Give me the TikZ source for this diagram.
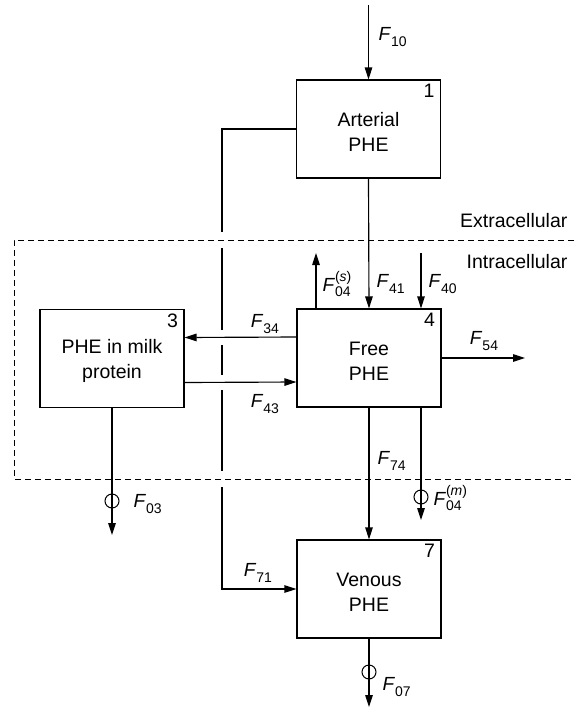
\documentclass[tikz,border=0pt]{standalone}
\usepackage{fontspec}
\setmainfont{Liberation Sans}
\usetikzlibrary{arrows.meta}
\newcommand{\Fsub}[1]{\textit{F}\raisebox{-0.28em}{\fontsize{14}{14}\selectfont #1}}
\newcommand{\Fsup}[2]{\textit{F}\rlap{\raisebox{0.52em}{\fontsize{14}{14}\selectfont(\textit{#2})}}\raisebox{-0.28em}{\fontsize{14}{14}\selectfont #1}}
\newcommand{\topstrut}{\rule{0pt}{20pt}}
\begin{document}
\begin{tikzpicture}[x=1pt,y=-1pt,line width=1.15pt,
  box/.style={draw, minimum width=144pt, minimum height=98pt, inner sep=0pt, align=center, font=\fontsize{19.5}{25}\selectfont},
  num/.style={anchor=north east, inner sep=0pt, font=\fontsize{19.5}{20}\selectfont},
  lab/.style={inner sep=0pt, font=\fontsize{19}{20}\selectfont},
  region/.style={inner sep=0pt, anchor=east, font=\fontsize{19.5}{20}\selectfont},
  flow/.style={draw, -{Triangle[length=12pt,width=7.5pt]}},
  ring/.style={draw, circle, minimum size=14pt, inner sep=0pt, line width=1pt},
  boundary/.style={draw, line width=1pt, dash pattern=on 6pt off 4pt}]
\useasboundingbox (0,0) rectangle (574,712);

% boxes
\node[box] (b1) at (368.5,129) {\topstrut Arterial\\PHE};
\node[box] (b4) at (369,358) {\topstrut Free\\PHE};
\node[box] (b3) at (112,358.5) {\topstrut PHE in milk\\protein};
\node[box] (b7) at (369,589) {\topstrut Venous\\PHE};
\node[num] (n1) at ([xshift=-6pt,yshift=-4pt]b1.north east) {1};
\node[num] (n4) at ([xshift=-6pt,yshift=-4pt]b4.north east) {4};
\node[num] (n3) at ([xshift=-6pt,yshift=-4pt]b3.north east) {3};
\node[num] (n7) at ([xshift=-6pt,yshift=-4pt]b7.north east) {7};

% bypass line
\coordinate (lx) at (222,400);
\draw[flow] (b1.west) -| (lx) |- (b7.west);
\fill[white] (216,232) rectangle (228,248);
\fill[white] (216,329.5) rectangle (228,344.5);
\fill[white] (216,374.5) rectangle (228,389.5);
\fill[white] (216,471) rectangle (228,487);

% cell boundary
\coordinate (d1) at (574,240);
\coordinate (d2) at (14,240);
\coordinate (d3) at (14,479);
\coordinate (d4) at (574,479);
\draw[boundary] (d1) -- (d2) -- (d3) -- (d4);
\node[region] (ext) at (568,221) {Extracellular};
\node[region] (int) at (568,262) {Intracellular};

% flows
\coordinate (s10) at (368.5,5);
\draw[flow] (s10) -- (b1.north);
\node[lab, anchor=west] (l10) at (378,37) {\Fsub{10}};

\draw[flow] (b1.south) -- (b4.north);
\node[lab, anchor=west] (l41) at (376,284) {\Fsub{41}};

\coordinate (s40) at (421,253);
\draw[flow] (s40) -- (s40 |- b4.north);
\node[lab, anchor=west] (l40) at (428,284) {\Fsub{40}};

\coordinate (e04s) at (316,253);
\draw[flow] (e04s |- b4.north) -- (e04s);
\node[lab, anchor=west] (l04s) at (322,284) {\Fsup{04}{s}};

\draw[flow] ([yshift=21pt]b4.west) -- ([yshift=21pt]b3.east);
\node[lab] (l34) at (265,324) {\Fsub{34}};
\draw[flow] ([yshift=-24pt]b3.east) -- ([yshift=-24pt]b4.west);
\node[lab] (l43) at (265,404) {\Fsub{43}};

\coordinate (e54) at (525,358);
\draw[flow] (b4.east) -- (e54);
\node[lab] (l54) at (484,341) {\Fsub{54}};

\coordinate (e03) at (112,535);
\draw[flow] (b3.south) -- (e03);
\node[ring] (r03) at (112,501) {};
\node[lab, anchor=west] (l03) at (133,504) {\Fsub{03}};

\draw[flow] (b4.south) -- (b7.north);
\node[lab, anchor=west] (l74) at (377,461) {\Fsub{74}};

\coordinate (e04m) at (421,520);
\draw[flow] (e04m |- b4.south) -- (e04m);
\node[ring] (r04m) at (421,497) {};
\node[lab, anchor=west] (l04m) at (433,498) {\Fsup{04}{m}};

\node[lab] (l71) at (258,573) {\Fsub{71}};

\coordinate (e07) at (369,707);
\draw[flow] (b7.south) -- (e07);
\node[ring] (r07) at (369,672) {};
\node[lab, anchor=west] (l07) at (382,687) {\Fsub{07}};
\end{tikzpicture}
\end{document}
